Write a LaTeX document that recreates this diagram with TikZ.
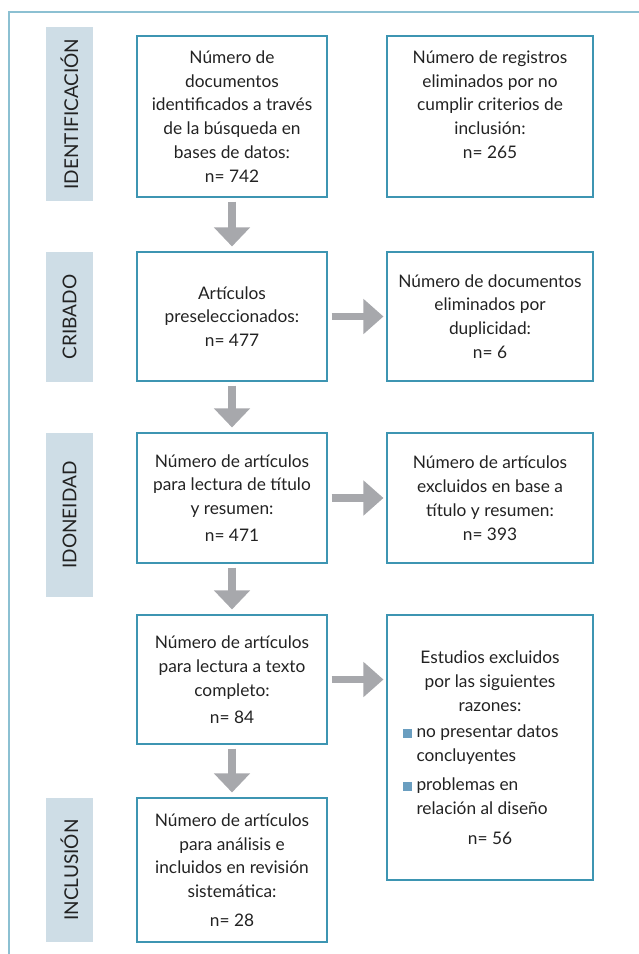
\documentclass[tikz,border=0pt]{standalone}
\usepackage{fontspec}
\setmainfont{Lato}
\usetikzlibrary{arrows.meta}
\definecolor{framec}{HTML}{8CC0D2}
\definecolor{boxc}{HTML}{3D95B2}
\definecolor{sidec}{HTML}{CEDDE6}
\definecolor{arrowc}{HTML}{A7A8AC}
\definecolor{txtc}{HTML}{222222}
\definecolor{bulc}{HTML}{6A9EC0}
\newcommand{\bodyfont}{\fontsize{17.3}{23.8}\selectfont}
\newcommand{\sidefont}{\fontsize{19}{19}\selectfont}
\newcommand{\bulsq}{\textcolor{bulc}{\rule{9pt}{9pt}}\hspace{4.5pt}}
\newcommand{\itemline}[1]{\makebox[174pt][l]{#1}}
\begin{document}
\begin{tikzpicture}[x=1pt,y=-1pt,
  box/.style={draw=boxc, line width=1.1pt, minimum width=190pt, inner sep=0pt, align=center, font=\bodyfont, text=txtc},
  rbox/.style={box, minimum width=206pt},
  txt/.style={inner sep=0pt, align=center, font=\bodyfont, text=txtc},
  side/.style={fill=sidec, minimum height=47pt, inner sep=0pt, rotate=90, font=\sidefont, text=txtc},
  downarr/.style={draw=arrowc, color=arrowc, line width=7.5pt, -{Triangle[width=35pt,length=19pt]}, shorten <=4pt, shorten >=5pt},
  rarr/.style={draw=arrowc, color=arrowc, line width=7.5pt, -{Triangle[width=34pt,length=20pt]}, shorten <=4pt, shorten >=3pt}]
\useasboundingbox (0,0) rectangle (639,954);
\draw[framec, line width=2pt] (9,954) -- (9,12) -- (639,12);

\node[side, minimum width=174pt] (s1) at (69.5,114) {IDENTIFICACIÓN};
\node[side, minimum width=130pt] (s2) at (69.5,317) {CRIBADO};
\node[side, minimum width=164pt] (s3) at (69.5,515) {IDONEIDAD};
\node[side, minimum width=144pt] (s4) at (69.5,870) {INCLUSIÓN};

\node[box, minimum height=161pt] (b1) at (232,116.5) {Número de\\documentos\\identificados a través\\de la búsqueda en\\bases de datos:\\n= 742};
\node[rbox, minimum height=161pt] (r1) at (490,116.5) {};
\node[txt] (r1t) at ([yshift=12pt]r1.center) {Número de registros\\eliminados por no\\cumplir criterios de\\inclusión:\\n= 265};

\node[box, minimum height=129pt] (b2) at (232,316.5) {Artículos\\preseleccionados:\\n= 477};
\node[rbox, minimum height=129pt] (r2) at (490,316.5) {Número de documentos\\eliminados por\\duplicidad:\\n= 6};

\node[box, minimum height=130pt] (b3) at (232,498) {Número de artículos\\para lectura de título\\y resumen:\\[3pt]n= 471};
\node[rbox, minimum height=130pt] (r3) at (490,498) {Número de artículos\\excluidos en base a\\título y resumen:\\n= 393};

\node[box, minimum height=129pt] (b4) at (232,679.5) {Número de artículos\\para lectura a texto\\completo:\\[3pt]n= 84};
\node[rbox, minimum height=265pt] (r4) at (490,747.5) {Estudios excluidos\\por las siguientes\\razones:\\[3pt]\itemline{\bulsq no presentar datos}\\\itemline{\hspace{13.5pt}concluyentes}\\[5pt]\itemline{\bulsq problemas en}\\\itemline{\hspace{13.5pt}relación al diseño}\\[6pt]n= 56};

\node[box, minimum height=144pt] (b5) at (232,870) {Número de artículos\\para análisis e\\incluidos en revisión\\sistemática:\\[5pt]n= 28};

\draw[downarr] (b1) -- (b2);
\draw[downarr] (b2) -- (b3);
\draw[downarr] (b3) -- (b4);
\draw[downarr] (b4) -- (b5);
\draw[rarr] (b2) -- (r2);
\draw[rarr] (b3) -- (r3);
\draw[rarr] (b4.east) -- (b4.east -| r4.west);
\end{tikzpicture}
\end{document}
